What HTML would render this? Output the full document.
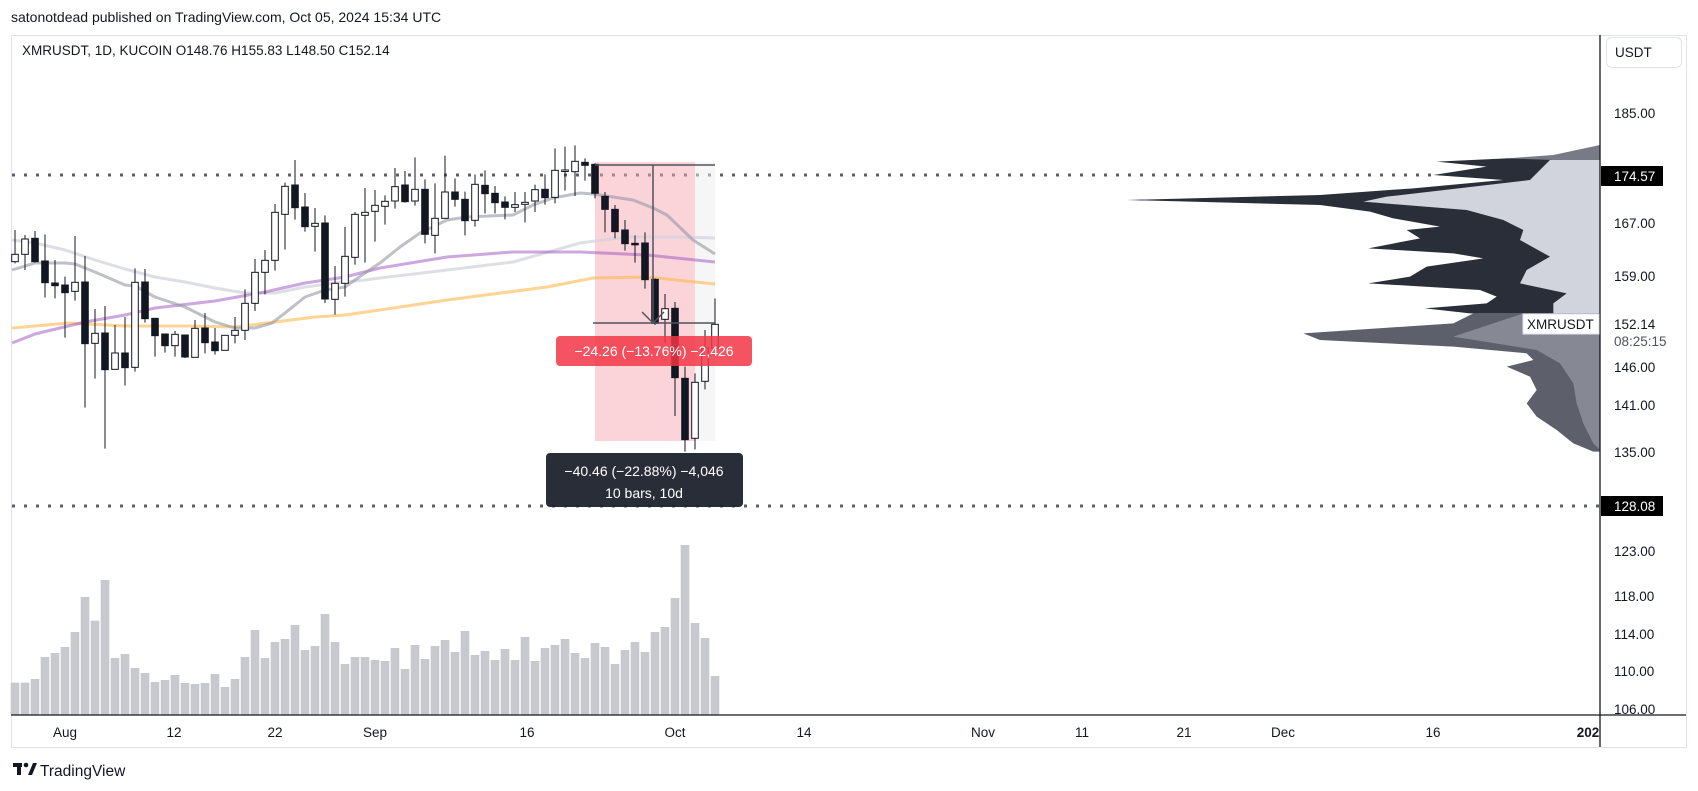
<!DOCTYPE html>
<html><head><meta charset="utf-8"><style>
body{margin:0;background:#fff;width:1698px;height:791px;overflow:hidden;font-family:"Liberation Sans",sans-serif}
svg{position:absolute;left:0;top:0}
</style></head><body>
<svg id="s" width="1698" height="791" xmlns="http://www.w3.org/2000/svg" font-family="Liberation Sans, sans-serif">
<text x="11" y="22" font-size="14" fill="#131722">satonotdead published on TradingView.com, Oct 05, 2024 15:34 UTC</text>
<rect x="11.5" y="35.5" width="1675" height="712" fill="none" stroke="#e0e3eb"/>
<text x="22" y="55" font-size="13.5" fill="#131722">XMRUSDT, 1D, KUCOIN  O148.76  H155.83  L148.50  C152.14</text>
<!-- volume profile -->
<g transform="translate(1120,130) scale(0.33333)">
<polygon fill="#787b86" points="1440,45 1300,75 1160,85 1160,92 1440,92"/>
<polygon fill="#2a2e39" points="1440,90 1300,90 1160,85 950,95 1100,110 940,135 1150,150 880,175 600,195 20,210 600,225 750,245 820,265 960,290 860,300 900,325 745,355 1000,370 1090,385 920,410 870,440 745,460 1080,480 1130,500 1100,520 915,535 1050,550 1440,550"/>
<polygon fill="#d1d4dc" points="1440,90 1290,90 1270,110 1230,150 800,200 730,215 1040,240 1150,270 1210,300 1200,330 1290,380 1220,420 1200,460 1340,490 1300,520 1300,550 1440,550"/>
<polygon fill="#5d606b" points="1440,550 1060,550 1000,580 550,610 600,630 1000,650 1220,670 1240,690 1160,710 1230,740 1250,780 1220,820 1250,860 1310,900 1360,940 1420,965 1440,965"/>
<polygon fill="#868993" points="1440,550 1210,550 1000,620 1250,660 1320,700 1360,760 1370,820 1390,880 1420,940 1440,960"/>
</g>
<!-- dotted lines -->
<line x1="12" y1="175" x2="1440" y2="175" stroke="#5d606b" stroke-width="3" stroke-dasharray="3,9"/>
<line x1="12" y1="506" x2="1600" y2="506" stroke="#5d606b" stroke-width="3" stroke-dasharray="3,9"/>
<!-- measure box -->
<rect x="595" y="162" width="100" height="279" fill="#f7a9b4" opacity="0.5"/>
<rect x="695" y="162" width="20" height="279" fill="#eeeeee" opacity="0.5"/>
<g id="ma"></g>
<g id="cd"></g>
<g stroke="#50535e" stroke-width="1.5" fill="none">
<line x1="595" y1="165" x2="715" y2="165"/>
<line x1="593" y1="323" x2="715" y2="323"/>
<line x1="653" y1="165" x2="653" y2="323"/>
<polyline points="642,312 653,323 664,312"/>
</g>
<rect x="556" y="336" width="196" height="30" rx="4" fill="#f23645" opacity="0.85"/>
<text x="654" y="356" font-size="14" fill="#fff" text-anchor="middle">−24.26 (−13.76%) −2,426</text>
<rect x="546" y="453" width="197" height="54" rx="4" fill="#1e222d" opacity="0.95"/>
<text x="644" y="476" font-size="14" fill="#fff" text-anchor="middle">−40.46 (−22.88%) −4,046</text>
<text x="644" y="498" font-size="14" fill="#fff" text-anchor="middle">10 bars, 10d</text>
<g id="vol" fill="#c8c9ce"></g>
<!-- axes -->
<line x1="1600" y1="35" x2="1600" y2="747" stroke="#131722" stroke-width="1.3"/>
<line x1="11" y1="715" x2="1686" y2="715" stroke="#131722" stroke-width="1.3"/>
<rect x="1606.5" y="37.5" width="75" height="30" rx="5" fill="#fff" stroke="#e0e3eb"/>
<text x="1615" y="57" font-size="13.5" fill="#131722">USDT</text>
<g font-size="13.5" fill="#131722">
<text x="1614" y="118">185.00</text>
<text x="1614" y="228">167.00</text>
<text x="1614" y="281">159.00</text>
<text x="1614" y="372">146.00</text>
<text x="1614" y="410">141.00</text>
<text x="1614" y="457">135.00</text>
<text x="1614" y="556">123.00</text>
<text x="1614" y="601">118.00</text>
<text x="1614" y="639">114.00</text>
<text x="1614" y="676">110.00</text>
<text x="1614" y="714">106.00</text>
<text x="1614" y="329">152.14</text>
<text x="1614" y="346" fill="#50535e">08:25:15</text>
</g>
<rect x="1601" y="166" width="62" height="20" fill="#000"/>
<text x="1614" y="181" font-size="13.5" fill="#fff">174.57</text>
<rect x="1601" y="496" width="62" height="20" fill="#000"/>
<text x="1614" y="511" font-size="13.5" fill="#fff">128.08</text>
<rect x="1523" y="314" width="76" height="20" fill="#fff" stroke="#e0e3eb"/>
<text x="1527" y="329" font-size="13.5" fill="#131722">XMRUSDT</text>
<g font-size="13.5" fill="#131722" text-anchor="middle">
<text x="65" y="737">Aug</text><text x="174" y="737">12</text><text x="275" y="737">22</text>
<text x="375" y="737">Sep</text><text x="527" y="737">16</text><text x="675" y="737">Oct</text>
<text x="804" y="737">14</text><text x="983" y="737">Nov</text><text x="1082" y="737">11</text>
<text x="1184" y="737">21</text><text x="1283" y="737">Dec</text><text x="1433" y="737">16</text>
<text x="1588" y="737" font-weight="bold">202</text>
</g>
<rect x="1601" y="716" width="85" height="31" fill="#fff"/>
<g fill="#131722"><rect x="13" y="763" width="9" height="4"/><rect x="17" y="763" width="4" height="12"/><circle cx="26" cy="765" r="2.3"/><polygon points="28,775 33,763 37,763 32,775"/></g>
<text x="40" y="776" font-size="15.5" fill="#131722">TradingView</text>
</svg>
<script>
var NS="http://www.w3.org/2000/svg";
function el(p,t,a){var e=document.createElementNS(NS,t);for(var k in a)e.setAttribute(k,a[k]);p.appendChild(e);return e;}
var A=[[300,373,395,400,1],[315,327,373,420,1],[303,325,395,398,0],[313,393,458,503,0],[390,459,467,505,0],[440,465,488,623,0],[318,457,484,512,1],[378,456,641,833,0],[537,610,640,746,1],[528,609,719,956,0],[585,669,718,718,1],[561,669,713,767,0],[415,457,712,725,1],[417,456,566,578,0],[565,565,617,680,0],[612,612,647,668,0],[603,613,647,680,1],[614,615,681,684,0],[570,595,682,682,1],[549,594,638,670,0],[594,636,662,674,0],[616,616,661,661,1],[561,601,616,640,1],[478,520,601,630,1],[387,427,520,543,1],[360,391,427,493,1],[222,247,391,422,1],[158,169,253,359,1],[90,165,233,269,0],[189,231,290,305,0],[234,280,289,365,1],[256,279,507,519,0],[408,460,508,554,1],[291,379,460,500,1],[246,253,382,404,1],[174,247,256,398,1],[180,226,244,335,1],[196,214,229,284,1]];
var B=[[114,170,213,236,1],[123,165,215,218,0],[82,178,213,227,1],[148,178,313,340,0],[160,265,316,370,1],[77,186,265,266,1],[145,186,208,230,0],[185,208,272,316,0],[133,163,271,290,1],[121,166,191,250,0],[168,190,218,250,0],[199,216,232,268,0],[186,224,232,246,1],[186,217,223,277,1],[164,179,213,246,1],[133,178,203,224,0],[55,121,202,220,1],[50,120,123,182,1],[46,94,125,198,1],[85,97,106,152,0],[100,103,190,205,0],[186,199,238,307,0],[225,238,305,325,0],[270,300,341,362,0],[316,340,342,398,0],[307,339,449,476,0],[445,448,580,585,0],[492,536,568,638,1],[516,535,743,858,0],[710,745,929,965,0],[730,757,925,958,1],[600,654,754,778,1],[505,583,655,655,1]];
var cd=document.getElementById("cd"),all=[];
A.forEach(function(c){all.push(c)});B.forEach(function(c){all.push(c)});
all.forEach(function(c,i){var x=15+10*i,y=function(z){return z/3+130};
el(cd,"line",{x1:x,x2:x,y1:y(c[0]),y2:y(c[3]),stroke:"#131722","stroke-width":1});
var t=y(c[1]),b=y(c[2]);if(b-t<1.5)b=t+1.5;
el(cd,"rect",{x:x-3.3,y:t,width:6.6,height:b-t,fill:c[4]?"#fff":"#131722",stroke:"#131722","stroke-width":1});});
var V=[458,458,447,381,369,351,306,201,272,150,384,372,414,429,456,450,435,459,462,459,432,471,447,381,300,384,336,327,285,360,348,252,336,402,381,381,390,393,354,417,345,387,348,330,366,303,375,363,390,357,390,321,393,354,345,327,369,384,339,351,402,360,336,366,306,291,204,45,279,324,438];
var vg=document.getElementById("vol");
V.forEach(function(v,i){var h=(555-v)/3;el(vg,"rect",{x:15+10*i-4.3,y:715-h,width:8.6,height:h});});
var ma=document.getElementById("ma");
function pl(pts,col,op){el(ma,"polyline",{points:pts,fill:"none",stroke:col,"stroke-width":3,opacity:op,"stroke-linejoin":"round"});}
pl("12,240 35,243 65,250 95,260 125,269 155,277 185,282 215,288 245,293 275,293 305,287 335,283 365,280 380,278 447,270 513,262 580,243 627,237 680,237 715,238","#d1d4dc",0.75);
pl("12,328 69,323 125,326 189,326 235,327 275,322 315,317 345,315 380,310 447,300 547,287 593,278 647,277 715,284","#ffb74d",0.6);
pl("12,343 35,334 85,322 125,315 155,308 215,301 265,292 305,283 345,277 380,268 447,257 513,252 580,252 647,255 715,262","#9c4fbf",0.5);
pl("12,270 35,263 65,263 75,264 95,272 125,285 135,286 155,297 185,307 215,322 235,328 255,328 272,323 285,313 305,297 325,290 345,287 365,273 380,263 400,247 420,233 447,220 467,217 513,215 533,205 553,198 580,193 593,194 613,197 633,200 653,208 667,215 693,240 715,254","#9598a1",0.6);
</script>
</body></html>
